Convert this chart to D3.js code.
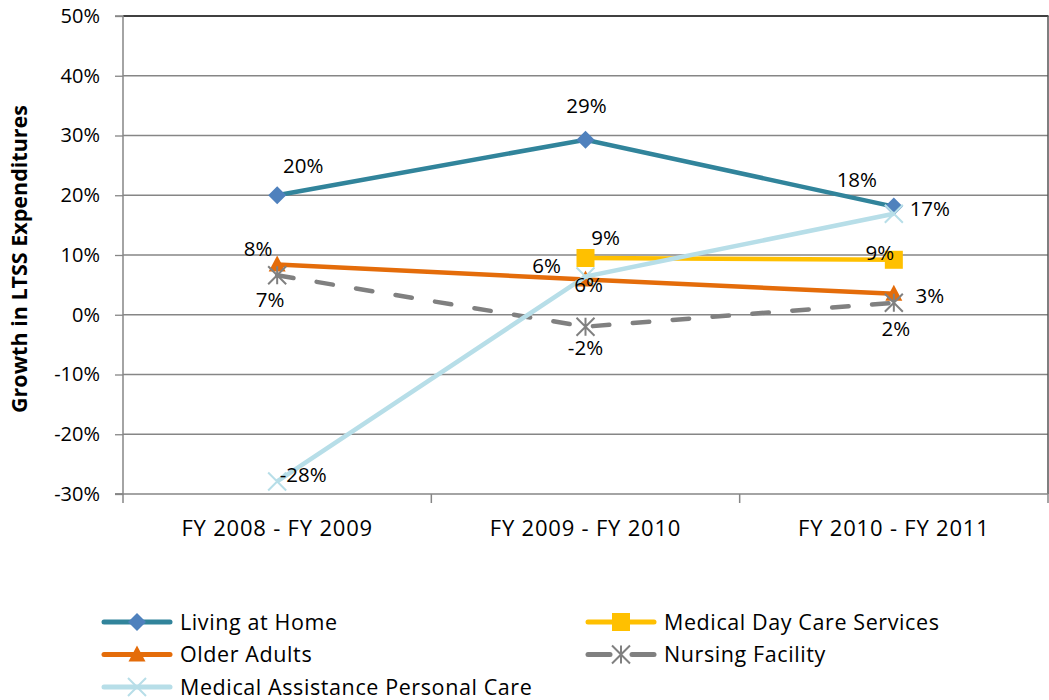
<!DOCTYPE html>
<html>
<head>
<meta charset="utf-8">
<script src="https://cdn.jsdelivr.net/npm/d3@7/dist/d3.min.js"></script>
<style>
body{margin:0;background:#fff;}
svg text{font-family:"Open Sans","Liberation Sans",sans-serif;}
</style>
</head>
<body>
<svg id="chart" width="1049" height="700"></svg>
<script>
const categories = ["FY 2008 - FY 2009", "FY 2009 - FY 2010", "FY 2010 - FY 2011"];
const yTicks = [-30, -20, -10, 0, 10, 20, 30, 40, 50];

const livingAtHome = [20.0, 29.3, 18.1];
const medicalDayCare = [null, 9.5, 9.2];
const olderAdults = [8.4, 5.9, 3.5];
const nursingFacility = [6.6, -2.0, 2.0];
const personalCare = [-27.9, 6.4, 16.9];

const livingAtHomeLabels = ["20%", "29%", "18%"];
const medicalDayCareLabels = [null, "9%", "9%"];
const olderAdultsLabels = ["8%", "6%", "3%"];
const nursingFacilityLabels = ["7%", "-2%", "2%"];
const personalCareLabels = ["-28%", "6%", "17%"];

const seriesNames = ["Living at Home", "Medical Day Care Services", "Older Adults", "Nursing Facility", "Medical Assistance Personal Care"];

// label offsets (dx, dy from point) per series/point
const labelOffsets = {
  "Living at Home": [[26,-29],[1,-34],[-37,-27]],
  "Medical Day Care Services": [null,[20,-20],[-14,-7]],
  "Older Adults": [[-19,-16],[-39,-13],[36,2]],
  "Nursing Facility": [[-7,25],[0,21],[2,26]],
  "Medical Assistance Personal Care": [[26,-6],[3,8],[36,-5]]
};

const series = [
  {name: seriesNames[0], values: livingAtHome, labels: livingAtHomeLabels, line: "#31849B", marker: "#4F81BD", shape: "diamond", dash: null, width: 4.5},
  {name: seriesNames[1], values: medicalDayCare, labels: medicalDayCareLabels, line: "#FFC000", marker: "#FFC000", shape: "square", dash: null, width: 4.5},
  {name: seriesNames[2], values: olderAdults, labels: olderAdultsLabels, line: "#E46C0A", marker: "#E46C0A", shape: "triangle", dash: null, width: 4.5},
  {name: seriesNames[3], values: nursingFacility, labels: nursingFacilityLabels, line: "#808080", marker: "#808080", shape: "star", dash: "16.5,23.5", width: 4.5},
  {name: seriesNames[4], values: personalCare, labels: personalCareLabels, line: "#B7DEE8", marker: "#B7DEE8", shape: "x", dash: null, width: 4.5}
];
const drawOrder = [0, 1, 2, 3, 4];

const svg = d3.select("#chart");
const L = 123, R = 1048, T = 16, B = 494;

const x = d3.scalePoint().domain(categories).range([L, R]).padding(0.5);
const xBand = d3.scaleBand().domain(categories).range([L, R]);
const y = d3.scaleLinear().domain([-30, 50]).range([B, T]);

// gridlines
svg.append("g").selectAll("line").data(yTicks.filter(t => t !== -30 && t !== 50)).join("line")
  .attr("x1", L).attr("x2", R).attr("y1", d => y(d)).attr("y2", d => y(d))
  .attr("stroke", "#868686").attr("stroke-width", 1.3);

// top and right border
svg.append("line").attr("x1", L).attr("x2", R+0.5).attr("y1", y(50)).attr("y2", y(50)).attr("stroke", "#000").attr("stroke-width", 1.5);
svg.append("line").attr("x1", R).attr("x2", R).attr("y1", T).attr("y2", B).attr("stroke", "#555").attr("stroke-width", 1.5);

// y axis
const yAxis = d3.axisLeft(y).tickValues(yTicks).tickFormat(d => d + "%").tickSize(8).tickPadding(15);
const gy = svg.append("g").attr("transform", `translate(${L},0)`).call(yAxis);
gy.select(".domain").attr("stroke", "#868686").attr("stroke-width", 1.5).attr("d", `M-8,${T}H0V${B}H-8`);
gy.selectAll(".tick line").attr("stroke", "#868686").attr("stroke-width", 1.3);
gy.selectAll(".tick text").attr("font-size", 20).attr("fill", "#000").style("font-family", "'Open Sans',sans-serif");

// x axis
const gx = svg.append("g").attr("transform", `translate(0,${B})`);
gx.append("line").attr("x1", L - 8).attr("x2", R).attr("y1", 0).attr("y2", 0).attr("stroke", "#868686").attr("stroke-width", 1.5);
const bounds = categories.map(c => xBand(c)).concat([R]);
gx.selectAll("line.tk").data(bounds).join("line").attr("class", "tk")
  .attr("x1", d => d).attr("x2", d => d).attr("y1", 0).attr("y2", 9)
  .attr("stroke", "#868686").attr("stroke-width", 1.5);
gx.selectAll("text").data(categories).join("text")
  .attr("x", d => x(d)).attr("y", 42).attr("text-anchor", "middle")
  .attr("font-size", 22).attr("letter-spacing", 0.8).attr("fill", "#000").text(d => d);

// y title
svg.append("text").attr("transform", `translate(27,${(T + B) / 2 + 4}) rotate(-90)`)
  .attr("text-anchor", "middle").attr("font-size", 21.5).attr("font-weight", "bold").text("Growth in LTSS Expenditures");

function marker(g, shape, color, cx, cy, s) {
  s = s || 1;
  if (shape === "diamond") {
    g.append("path").attr("d", `M${cx},${cy-9*s}L${cx+9*s},${cy}L${cx},${cy+9*s}L${cx-9*s},${cy}Z`).attr("fill", color);
  } else if (shape === "square") {
    g.append("rect").attr("x", cx-9*s).attr("y", cy-9*s).attr("width", 18*s).attr("height", 18*s).attr("fill", color);
  } else if (shape === "triangle") {
    g.append("path").attr("d", `M${cx},${cy-9*s}L${cx+8.5*s},${cy+7*s}L${cx-8.5*s},${cy+7*s}Z`).attr("fill", color);
  } else if (shape === "star") {
    const r = 9*s;
    g.append("path").attr("d", `M${cx-r},${cy-r}L${cx+r},${cy+r}M${cx-r},${cy+r}L${cx+r},${cy-r}M${cx},${cy-r}L${cx},${cy+r}`)
      .attr("stroke", color).attr("stroke-width", 2).attr("fill", "none");
  } else if (shape === "x") {
    const r = 9*s;
    g.append("path").attr("d", `M${cx-r},${cy-r}L${cx+r},${cy+r}M${cx-r},${cy+r}L${cx+r},${cy-r}`)
      .attr("stroke", color).attr("stroke-width", 2).attr("fill", "none");
  }
}

const lineGen = d3.line().defined(d => d.v !== null).x(d => x(d.c)).y(d => y(d.v));
const plot = svg.append("g");
drawOrder.forEach(i => {
  const s = series[i];
  const pts = categories.map((c, j) => ({c, v: s.values[j]}));
  plot.append("path").datum(pts).attr("d", lineGen).attr("fill", "none")
    .attr("stroke", s.line).attr("stroke-width", s.width)
    .attr("stroke-dasharray", s.dash).attr("stroke-linecap", s.dash ? "round" : "butt");
  pts.forEach(p => { if (p.v !== null) marker(plot, s.shape, s.marker, x(p.c), y(p.v)); });
});

// labels
const lab = svg.append("g");
series.forEach(s => {
  categories.forEach((c, j) => {
    if (s.values[j] === null) return;
    const off = labelOffsets[s.name][j];
    lab.append("text").attr("x", x(c) + off[0]).attr("y", y(s.values[j]) + off[1] + 7)
      .attr("text-anchor", "middle").attr("font-size", 20.5).attr("fill", "#000").text(s.labels[j]);
  });
});

// legend
const legendItems = [
  {i: 0, col: 0, row: 0}, {i: 1, col: 1, row: 0},
  {i: 2, col: 0, row: 1}, {i: 3, col: 1, row: 1},
  {i: 4, col: 0, row: 2}
];
const lg = svg.append("g");
legendItems.forEach(it => {
  const s = series[it.i];
  const lx = it.col === 0 ? 102 : 586;
  const ly = 622 + it.row * 32.5;
  if (s.dash) {
    lg.append("line").attr("x1", lx+2).attr("x2", lx+24).attr("y1", ly).attr("y2", ly).attr("stroke", s.line).attr("stroke-width", 5).attr("stroke-linecap", "round");
    lg.append("line").attr("x1", lx+46).attr("x2", lx+68).attr("y1", ly).attr("y2", ly).attr("stroke", s.line).attr("stroke-width", 5).attr("stroke-linecap", "round");
  } else {
    lg.append("line").attr("x1", lx+2).attr("x2", lx+68).attr("y1", ly).attr("y2", ly).attr("stroke", s.line).attr("stroke-width", 5).attr("stroke-linecap", "round");
  }
  marker(lg, s.shape, s.marker, lx + 35, ly);
  lg.append("text").attr("x", lx + 78).attr("y", ly + 7.5).attr("font-size", 21.5).attr("letter-spacing", 0.6).attr("fill", "#000").text(s.name);
});
</script>
</body>
</html>
